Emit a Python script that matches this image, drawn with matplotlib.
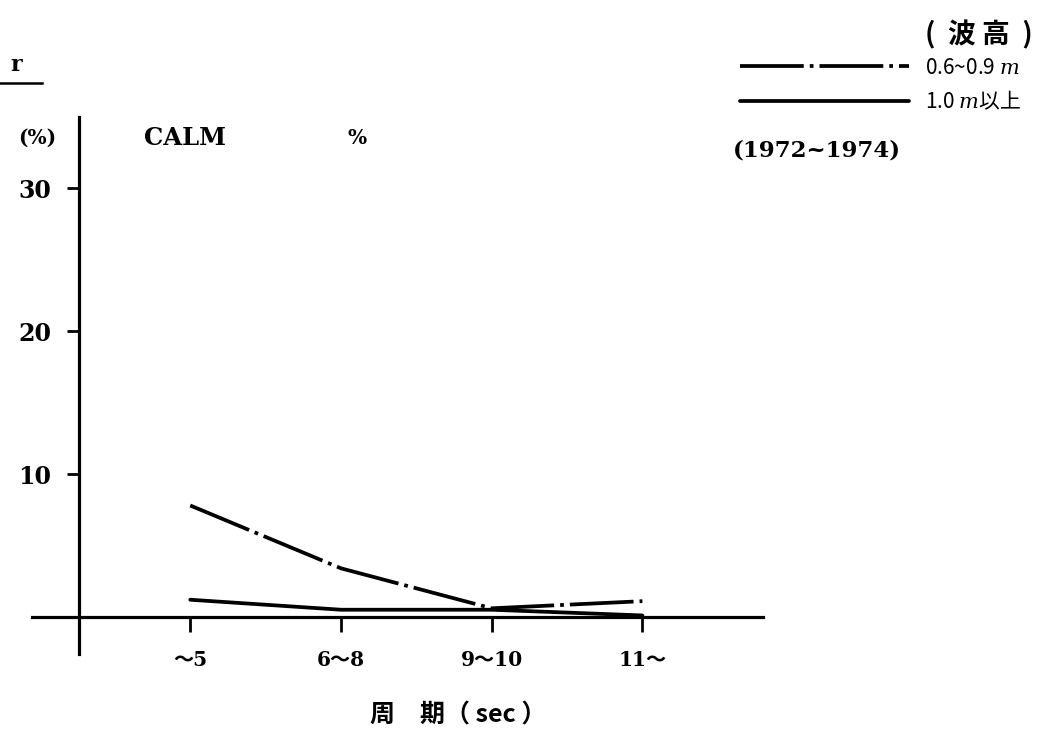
import matplotlib
matplotlib.use("Agg")
import matplotlib.pyplot as plt
from matplotlib.lines import Line2D

plt.rcParams["mathtext.fontset"] = "custom"
plt.rcParams["mathtext.it"] = "DejaVu Serif:italic"

# Wave period classes and frequency (%) of each wave-height class
periods = ["～5", "6～8", "9～10", "11～"]
height_06_09 = [7.8, 3.4, 0.6, 1.1]   # 0.6~0.9 m
height_10_up = [1.2, 0.5, 0.5, 0.1]   # 1.0 m 以上
y_ticks = [10, 20, 30]

SERIF = ["DejaVu Serif", "Noto Sans CJK JP"]
CJK = ["Noto Sans CJK JP", "DejaVu Sans"]

fig = plt.figure(figsize=(10.56, 7.41), dpi=100)
ax = fig.add_axes([0.0303, 0.1174, 0.6922, 0.7247])

x = list(range(len(periods)))
dashdot = (0, (17, 1.6, 1.0, 1.6))
l1, = ax.plot(x, height_06_09, color="black", lw=2.7, linestyle=dashdot,
              dash_capstyle="butt", label="0.6~0.9 $m$")
l2, = ax.plot(x, height_10_up, color="black", lw=2.7,
              solid_capstyle="round", label="1.0 $m$以上")

ax.set_xlim(-1.05, 3.8)
ax.set_ylim(-2.6, 35)

# Cross-shaped axes: vertical axis left of the first class, horizontal at zero
for s in ("top", "right"):
    ax.spines[s].set_visible(False)
ax.spines["left"].set_position(("data", -0.74))
ax.spines["bottom"].set_position(("data", 0))
ax.spines["left"].set_linewidth(2.3)
ax.spines["bottom"].set_linewidth(2.3)

ax.set_xticks(x)
ax.set_xticklabels(periods)
ax.set_yticks(y_ticks)
ax.set_yticklabels([str(v) for v in y_ticks])
ax.tick_params(axis="x", direction="out", length=11, width=2, pad=13)
ax.tick_params(axis="y", direction="out", length=9, width=2, pad=11)
for lab in ax.get_xticklabels():
    lab.set_family(SERIF)
    lab.set_fontsize(14.5)
    lab.set_fontweight("bold")
for lab in ax.get_yticklabels():
    lab.set_family(SERIF)
    lab.set_fontsize(17)
    lab.set_fontweight("bold")

ax.set_xlabel("周　期（ sec ）", family=CJK, fontsize=18, fontweight="bold")
ax.xaxis.set_label_coords(0.583, -0.092)

# Header texts inside the plot area
fig.text(0.017, 0.814, "(%)", family=SERIF, fontsize=14.5, fontweight="bold",
         va="center")
fig.text(0.136, 0.814, "CALM", family=SERIF, fontsize=17.5,
         fontweight="bold", va="center")
fig.text(0.329, 0.814, "%", family=SERIF, fontsize=14.5, fontweight="bold",
         va="center")

# Cut-off title fragment with its underline
fig.text(0.010, 0.912, "r", family=SERIF, fontsize=16, fontweight="bold",
         va="center")
fig.add_artist(Line2D([0.0, 0.040], [0.888, 0.888], color="black", lw=1.8,
                      transform=fig.transFigure))

# Legend
leg = fig.legend(handles=[l1, l2], loc="upper left",
                 bbox_to_anchor=(0.683, 0.949), frameon=False,
                 handlelength=8.1, handletextpad=0.8, labelspacing=0.55,
                 prop={"family": "Noto Sans CJK JP", "size": 15})
fig.text(0.876, 0.953, "(  波 高  )", family=CJK, fontsize=20,
         fontweight="bold", va="center")
fig.text(0.694, 0.797, "(1972~1974)", family=SERIF, fontsize=16.5,
         fontweight="bold", va="center")

fig.savefig("out.png", dpi=100, facecolor="white")
